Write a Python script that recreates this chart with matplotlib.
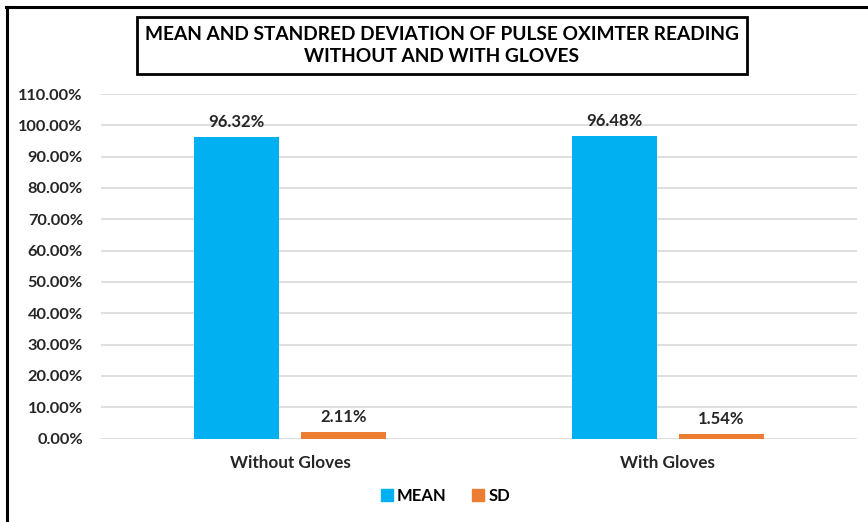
import matplotlib
matplotlib.use("Agg")
import matplotlib.pyplot as plt
import numpy as np
from matplotlib.patches import Rectangle
from matplotlib.lines import Line2D

categories = ["Without Gloves", "With Gloves"]
mean_vals = [96.32, 96.48]
sd_vals = [2.11, 1.54]
series_names = ["MEAN", "SD"]
yticks = [0, 10, 20, 30, 40, 50, 60, 70, 80, 90, 100, 110]
title = "MEAN AND STANDRED DEVIATION OF PULSE OXIMTER READING\nWITHOUT AND WITH GLOVES"

plt.rcParams['font.family'] = ['Lato', 'DejaVu Sans']
W, H = 868, 522
fig = plt.figure(figsize=(W/100, H/100), dpi=100)

ax = fig.add_axes([101/W, 1-438.5/H, (857-101)/W, (438.5-94)/H])
x = np.arange(len(categories))
bw = 0.225
off = 0.1415
c_mean = "#00B0F0"
c_sd = "#ED7D31"
b1 = ax.bar(x - off, mean_vals, bw, color=c_mean, zorder=3)
b2 = ax.bar(x + off, sd_vals, bw, color=c_sd, zorder=3)
for bars, vals in ((b1, mean_vals), (b2, sd_vals)):
    for r, v in zip(bars, vals):
        ax.annotate(f"{v:.2f}%", (r.get_x()+r.get_width()/2, v), xytext=(0, 5),
                    textcoords="offset points", ha="center", va="bottom",
                    fontsize=12, fontweight="bold", color="#262626")
ax.set_xlim(-0.5, 1.5)
ax.set_ylim(0, 110)
ax.set_yticks(yticks)
ax.set_yticklabels([f"{t:.2f}%" for t in yticks], fontsize=11.8, fontweight="bold", color="#262626")
ax.set_xticks(x)
ax.set_xticklabels(categories, fontsize=12.3, fontweight="bold", color="#262626")
ax.tick_params(axis="both", length=0)
ax.tick_params(axis="y", pad=13)
ax.tick_params(axis="x", pad=12)
ax.grid(axis="y", color="#D9D9D9", linewidth=1.2, zorder=0)
for s in ax.spines.values():
    s.set_visible(False)

handles = [Line2D([], [], marker="s", linestyle="none", markersize=9, color=c_mean),
           Line2D([], [], marker="s", linestyle="none", markersize=9, color=c_sd)]
fig.legend(handles, series_names, loc="center", bbox_to_anchor=(445/W, 1-496/H), ncol=2,
           frameon=False, handlelength=0.8, handletextpad=0.2, columnspacing=1.5,
           prop={"size": 12, "weight": "bold"})

# title box
fig.patches.append(Rectangle((137/W, 1-74/H), (747-137)/W, (74-17)/H, transform=fig.transFigure,
                             fill=False, edgecolor="black", linewidth=2))
fig.text(442/W, 1-45.5/H, title, ha="center", va="center", fontsize=13.8, fontweight="bold",
         linespacing=1.3, color="black")

# outer border (top and left)
fig.lines.append(Line2D([6/W, 1], [1-6.5/H, 1-6.5/H], transform=fig.transFigure, color="black", linewidth=2.2))
fig.lines.append(Line2D([6.5/W, 6.5/W], [0, 1-6.5/H], transform=fig.transFigure, color="black", linewidth=2.2))

fig.savefig("out.png", dpi=100)
